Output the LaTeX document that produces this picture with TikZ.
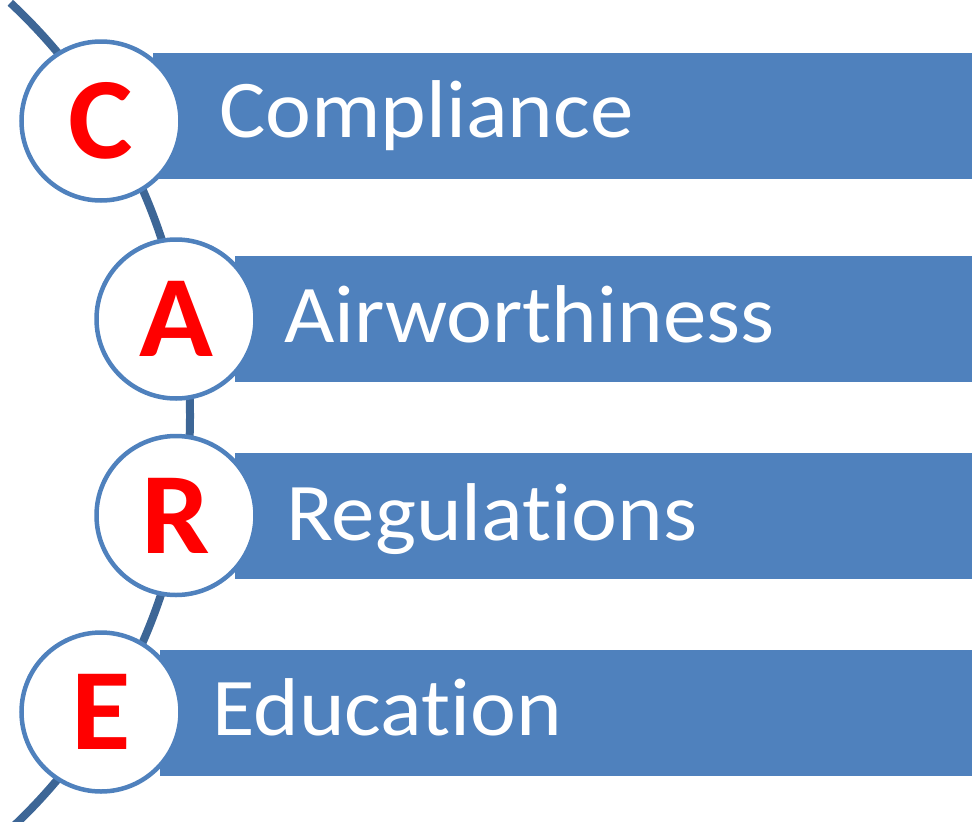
\documentclass[tikz,border=0pt]{standalone}
\usepackage{fontspec}
\usetikzlibrary{calc}
\newfontfamily\labelfont[FakeStretch=1.06,Ligatures={NoCommon,NoRare,NoContextual}]{Carlito}
\newfontfamily\letterfont[FakeStretch=1.05]{Carlito Bold}
\definecolor{barblue}{HTML}{4F81BD}
\definecolor{linkblue}{HTML}{3D6696}
\definecolor{letterred}{HTML}{FF0000}
\begin{document}
\begin{tikzpicture}[x=1pt,y=-1pt,
  bar/.style={fill=barblue, draw=none, inner sep=0pt, anchor=west, minimum height=126pt},
  ring/.style={circle, draw=barblue, line width=4.5pt, fill=white, minimum size=159pt, inner sep=0pt,
    font=\letterfont\fontsize{116}{116}\selectfont, text=letterred},
  label/.style={anchor=base west, inner sep=0pt, text=white, font=\labelfont\fontsize{82}{82}\selectfont},
  link/.style={draw=linkblue, line width=8pt}]
\useasboundingbox (0,0) rectangle (972,822);
\begin{scope}
\clip (0,0) rectangle (972,822);
% connector arc
\coordinate (arcctr) at (-375,416);
\coordinate (arctop) at ($(arcctr)+(-47:565)$);
\draw[link] (arctop) arc[start angle=-47, end angle=47, radius=565];
% bars
\node[bar, minimum width=819pt] (b1) at (153,116) {};
\node[bar, minimum width=737pt] (b2) at (235,319) {};
\node[bar, minimum width=737pt] (b3) at (235,516) {};
\node[bar, minimum width=812pt] (b4) at (160,712.5) {};
\end{scope}
% circles
\node[ring] (c) at (101,121) {C};
\node[ring] (a) at (176,319) {A};
\node[ring] (r) at (176,515.5) {R};
\node[ring] (e) at (101,712) {E};
% labels
\node[label] (lc) at (219,137) {Compliance};
\node[label] (la) at (284,342) {Airworthiness};
\node[label] (lr) at (286,540) {Regulations};
\node[label] (le) at (212,735) {Education};
\end{tikzpicture}
\end{document}
